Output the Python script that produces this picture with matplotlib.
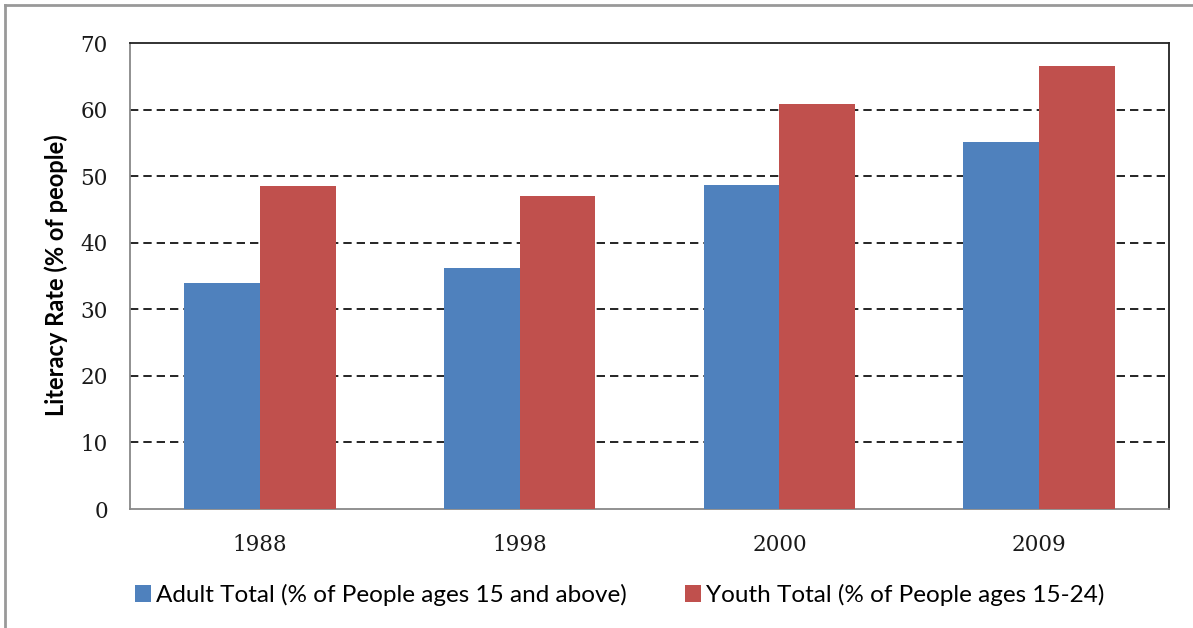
import numpy as np
import matplotlib
matplotlib.use("Agg")
import matplotlib.pyplot as plt
from matplotlib.lines import Line2D

years = ["1988", "1998", "2000", "2009"]
adult = [34.0, 36.2, 48.7, 55.2]
youth = [48.5, 47.0, 60.8, 66.6]
adult_label = "Adult Total (% of People ages 15 and above)"
youth_label = "Youth Total (% of People ages 15-24)"
y_ticks = [0, 10, 20, 30, 40, 50, 60, 70]

BLUE = "#4F81BD"
RED = "#C0504D"
SANS = ["Lato", "DejaVu Sans"]
SERIF = ["DejaVu Serif"]

fig = plt.figure(figsize=(11.93, 6.28), dpi=100)
ax = fig.add_axes([130 / 1193, 1 - 509 / 628, (1169 - 130) / 1193, (509 - 43) / 628])

x = np.arange(len(years))
w = 0.292
b1 = ax.bar(x - w / 2, adult, w, color=BLUE, label=adult_label, zorder=3)
b2 = ax.bar(x + w / 2, youth, w, color=RED, label=youth_label, zorder=3)

ax.set_xlim(-0.5, len(years) - 0.5)
ax.set_ylim(0, 70)
ax.set_yticks(y_ticks)
ax.set_xticks(x)
ax.set_xticklabels(years)

# dashed gridlines between 0 and 70
for t in y_ticks[1:-1]:
    ax.axhline(t, color="black", linestyle=(0, (5, 3)), linewidth=1.2, zorder=1)

ax.tick_params(axis="both", length=0)
ax.tick_params(axis="y", pad=16)
ax.tick_params(axis="x", pad=18)
for lbl in ax.get_xticklabels() + ax.get_yticklabels():
    lbl.set_family(SERIF)
    lbl.set_fontsize(15.5)
    lbl.set_color("#1a1a1a")

ax.spines["left"].set_color("#888888")
ax.spines["bottom"].set_color("#888888")
ax.spines["top"].set_color("#222222")
ax.spines["right"].set_color("#222222")
for s in ax.spines.values():
    s.set_linewidth(1.3)

fig.text(56 / 1193, 1 - 275 / 628, "Literacy Rate (% of people)", rotation=90,
         ha="center", va="center", fontsize=17, fontweight="bold", family=SANS)

leg = fig.legend(handles=[b1, b2], loc="center", bbox_to_anchor=(620 / 1193, 1 - 595 / 628),
                 ncol=2, frameon=False, handlelength=0.66, handleheight=0.66,
                 handletextpad=0.2, columnspacing=2.4, prop={"family": SANS, "size": 17.5})

# outer chart border (top and left edges visible)
fig.add_artist(Line2D([5 / 1193, 5 / 1193], [0, 1 - 5 / 628], transform=fig.transFigure,
                      color="#999999", linewidth=2))
fig.add_artist(Line2D([5 / 1193, 1], [1 - 5 / 628, 1 - 5 / 628], transform=fig.transFigure,
                      color="#999999", linewidth=2))

fig.savefig("out.png", dpi=100)
